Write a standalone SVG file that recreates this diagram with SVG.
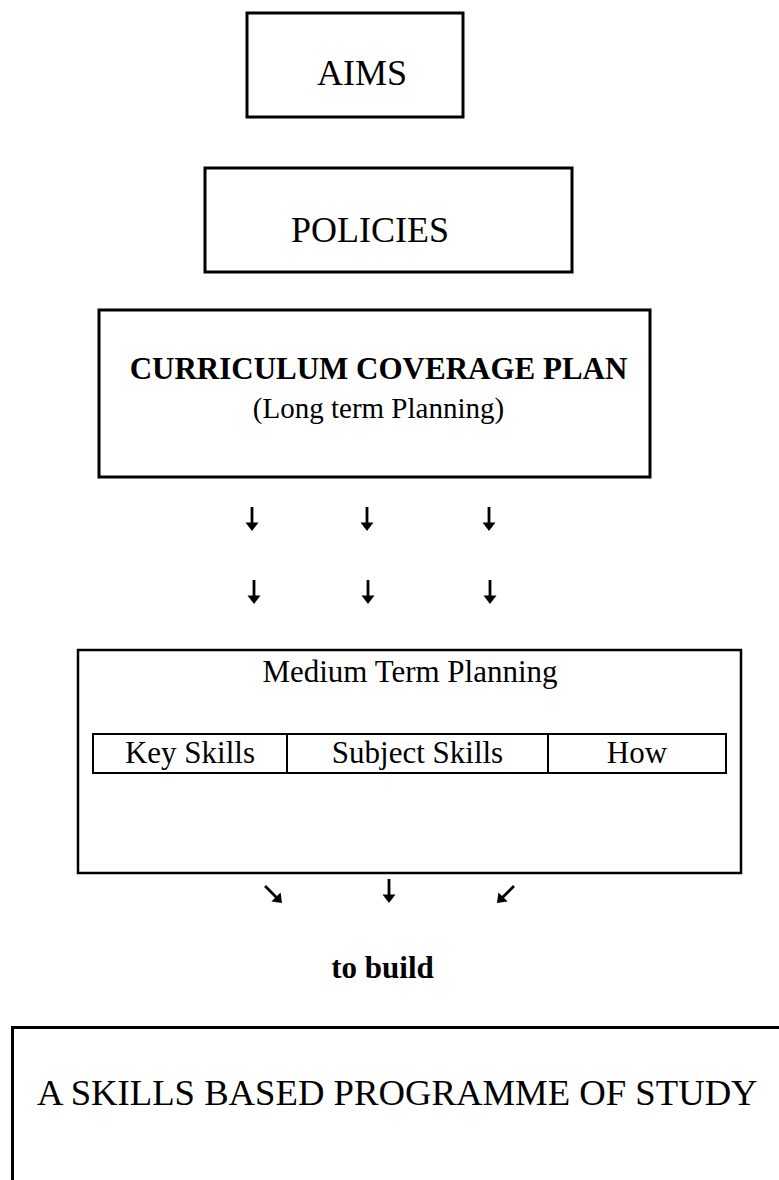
<svg xmlns="http://www.w3.org/2000/svg" width="779" height="1180" viewBox="0 0 779 1180">
<style>
  .box { fill: #fff; stroke: #000; stroke-width: 3; }
  .thin { fill: none; stroke: #000; stroke-width: 2.5; }
  .cell { fill: none; stroke: #000; stroke-width: 2; }
  text { font-family: "Liberation Serif", "Times New Roman", serif; fill: #000; }
  .big { font-size: 36px; }
  .mid { font-size: 31px; }
  .bold { font-weight: bold; font-size: 31px; }
  .sub { font-size: 29px; }
  .c { text-anchor: middle; }
</style>
<defs>
  <g id="arrowDown">
    <rect x="-1.4" y="-24" width="2.8" height="17" fill="#000"/>
    <polygon points="-6.5,-8.5 6.5,-8.5 0,0" fill="#000"/>
  </g>
</defs>
<rect width="779" height="1180" fill="#fff"/>

<g id="aims">
  <rect class="box" x="247" y="13" width="216" height="104"/>
  <text class="big c" x="362" y="85">AIMS</text>
</g>

<g id="policies">
  <rect class="box" x="205" y="168" width="367" height="104"/>
  <text class="big c" x="370" y="242">POLICIES</text>
</g>

<g id="ccp">
  <rect class="box" x="99" y="310" width="551" height="167"/>
  <text class="bold c" x="378.5" y="379">CURRICULUM COVERAGE PLAN</text>
  <text class="sub c" x="378.5" y="418">(Long term Planning)</text>
</g>

<g id="medium">
  <rect class="thin" x="78" y="650" width="663" height="223"/>
  <text class="mid c" x="410" y="682">Medium Term Planning</text>
  <rect class="cell" x="93" y="734" width="633" height="39"/>
  <line class="cell" x1="287" y1="734" x2="287" y2="773"/>
  <line class="cell" x1="548" y1="734" x2="548" y2="773"/>
  <text class="mid c" x="190" y="763">Key Skills</text>
  <text class="mid c" x="417.5" y="763">Subject Skills</text>
  <text class="mid c" x="637" y="763">How</text>
</g>

<g id="tobuild">
  <text class="bold c" x="382.5" y="978">to build</text>
</g>

<g id="programme">
  <rect class="box" x="12.5" y="1027.5" width="800" height="200"/>
  <text x="37" y="1105" style="font-size:36.7px">A SKILLS BASED PROGRAMME OF STUDY</text>
</g>

<g id="connectors">
  <use href="#arrowDown" x="252" y="531"/>
  <use href="#arrowDown" x="367" y="531"/>
  <use href="#arrowDown" x="489" y="531"/>
  <use href="#arrowDown" x="254" y="604"/>
  <use href="#arrowDown" x="368" y="604"/>
  <use href="#arrowDown" x="490" y="604"/>
  <use href="#arrowDown" transform="translate(282,903) rotate(-45)"/>
  <use href="#arrowDown" x="389" y="903"/>
  <use href="#arrowDown" transform="translate(497,903) rotate(45)"/>
</g>
</svg>
